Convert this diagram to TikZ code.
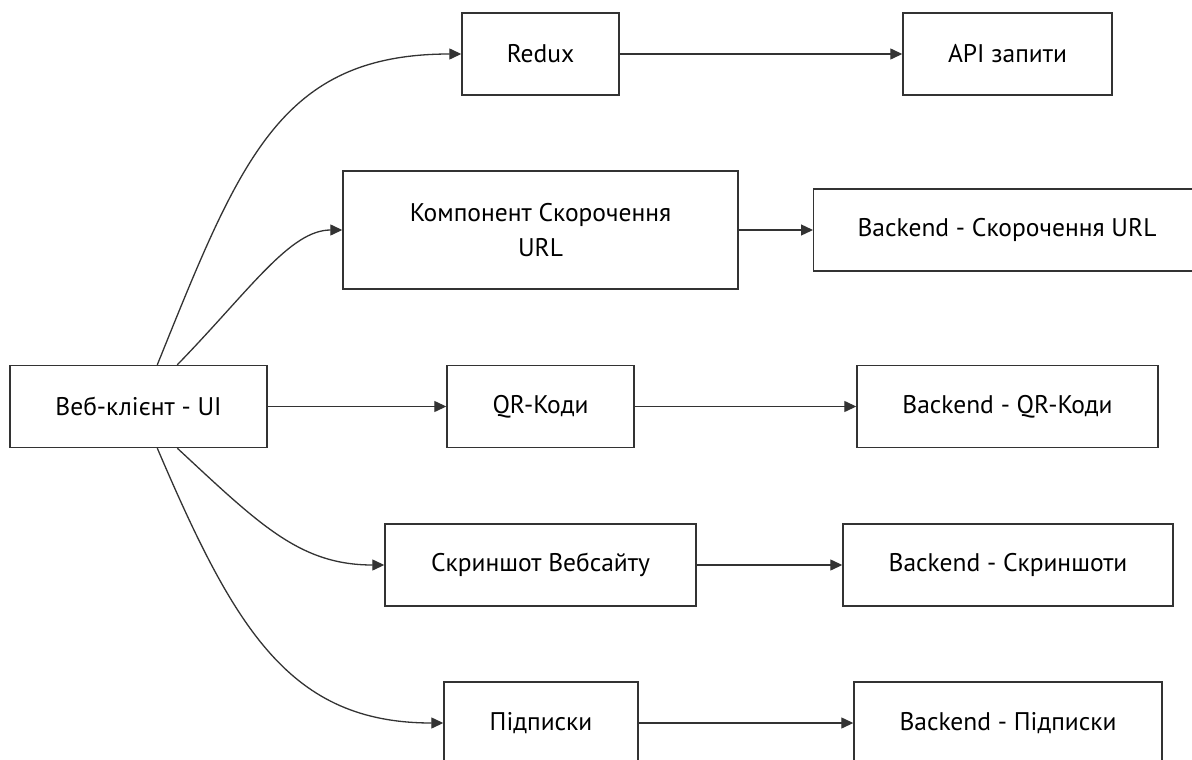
\documentclass[tikz,border=0pt]{standalone}
\usepackage{fontspec}
\setmainfont{PT Sans}
\usetikzlibrary{arrows.meta}
\definecolor{lineclr}{HTML}{333333}
\tikzset{
  lbl/.style={font=\fontsize{25.5pt}{35pt}\selectfont, text=black, align=center},
  box/.style={draw=lineclr, line width=1.4pt, fill=white, rectangle, inner sep=0pt, lbl},
  conn/.style={draw=lineclr, line width=1.3pt, -{Triangle[length=12pt,width=11pt]}}
}
\begin{document}
\begin{tikzpicture}[x=1pt,y=-1pt]
\useasboundingbox (0,0) rectangle (1192,760);
\clip (0,0) rectangle (1192,760);
\fill[white] (0,0) rectangle (1192,760);
% nodes
\node[box, minimum width=257pt, minimum height=82pt] (web) at (138.5,406.5) {Веб-клієнт - UI};
\node[box, minimum width=157pt, minimum height=82pt] (redux) at (540.5,54) {Redux};
\node[box, minimum width=209pt, minimum height=82pt] (api) at (1007.5,54) {API запити};
\node[box, minimum width=395pt, minimum height=118pt] (comp) at (540.5,230) {Компонент Скорочення\\URL};
\node[box, minimum width=390pt, minimum height=82pt, anchor=west] (bcomp) at (813,230) {};
\node[lbl] (bcompt) at (1007,230) {Backend - Скорочення URL};
\node[box, minimum width=187pt, minimum height=82pt] (qr) at (540.5,406.5) {QR-Коди};
\node[box, minimum width=301pt, minimum height=82pt] (bqr) at (1007.5,406.5) {Backend - QR-Коди};
\node[box, minimum width=311pt, minimum height=82pt] (scr) at (540.5,565) {Скриншот Вебсайту};
\node[box, minimum width=330pt, minimum height=82pt] (bscr) at (1008,565) {Backend - Скриншоти};
\node[box, minimum width=194pt, minimum height=82pt] (sub) at (541,723) {Підписки};
\node[box, minimum width=308pt, minimum height=82pt] (bsub) at (1008,723) {Backend - Підписки};
% connectors
\draw[conn] ([xshift=148pt]web.north west) .. controls (240,160) and (280,54) .. (redux.west);
\draw[conn] ([xshift=168pt]web.north west) .. controls (250,290) and (290,230) .. (comp.west);
\draw[conn] (web.east) -- (qr.west);
\draw[conn] ([xshift=168pt]web.south west) .. controls (260,525) and (300,565) .. (scr.west);
\draw[conn] ([xshift=148pt]web.south west) .. controls (235,630) and (290,723) .. (sub.west);
\draw[conn] (redux.east) -- (api.west);
\draw[conn] (comp.east) -- (bcomp.west);
\draw[conn] (qr.east) -- (bqr.west);
\draw[conn] (scr.east) -- (bscr.west);
\draw[conn] (sub.east) -- (bsub.west);
\end{tikzpicture}
\end{document}
